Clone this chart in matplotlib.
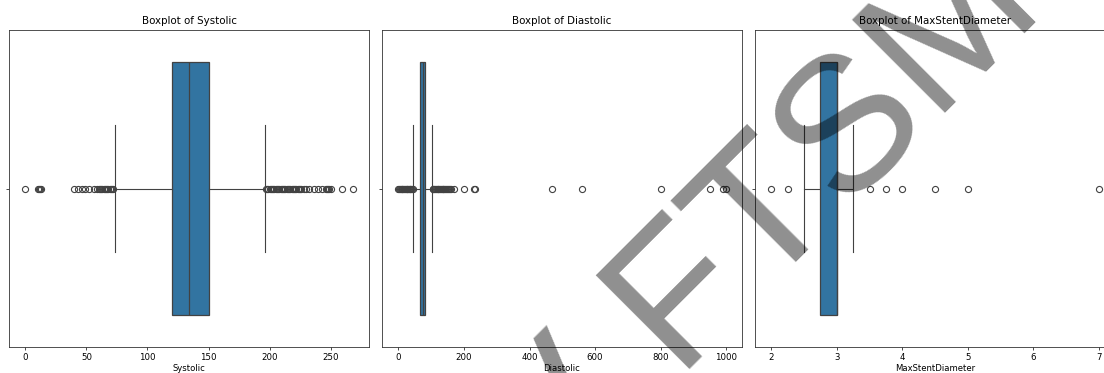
import matplotlib.pyplot as plt

# box statistics
columns = ['Systolic', 'Diastolic', 'MaxStentDiameter']
q1 = [120, 67, 2.75]
median = [134, 74, 3.0]
q3 = [150, 82, 3.0]
whisker_low = [73, 45, 2.5]
whisker_high = [196, 104, 3.25]

systolic_fliers = [0, 10, 11, 12, 13, 40, 43, 46, 49, 52, 56,
                   59, 60, 61, 62, 63, 64, 65, 66, 67, 68, 69, 70, 71, 72,
                   197, 198, 199, 200, 201, 202, 203, 204, 205, 206, 207, 208,
                   209, 210, 211, 212, 213, 214, 215, 216, 217, 218, 219, 220,
                   221, 222, 223, 224, 225, 226, 228, 230, 232, 236, 240, 243,
                   246, 247, 248, 249, 250, 259, 268]
diastolic_fliers = [0, 3, 5, 8, 10, 12, 15, 17, 20, 22, 25, 27, 30, 32, 35,
                    37, 40, 42, 44,
                    105, 107, 110, 112, 115, 117, 120, 122, 125, 127, 130,
                    132, 135, 137, 140, 142, 145, 148, 150, 153, 156, 160,
                    170, 200, 230, 233, 468, 560, 800, 950, 990, 998]
stent_fliers = [2.0, 2.25, 3.5, 3.75, 4.0, 4.5, 5.0, 7.0]
fliers = [systolic_fliers, diastolic_fliers, stent_fliers]

box_color = '#3274a1'
line_color = '#424242'

fig = plt.figure(figsize=(11.04, 3.73), dpi=100)
W, H = 1104.0, 373.0
lefts = [9, 382, 755]

for i, name in enumerate(columns):
    ax = fig.add_axes([lefts[i] / W, 26 / H, 360 / W, 317 / H])
    stats = [{'q1': q1[i], 'med': median[i], 'q3': q3[i],
              'whislo': whisker_low[i], 'whishi': whisker_high[i],
              'fliers': fliers[i]}]
    ax.bxp(stats, positions=[0], widths=0.8, capwidths=0.4,
           orientation='horizontal', patch_artist=True, manage_ticks=False,
           boxprops=dict(facecolor=box_color, edgecolor=line_color, linewidth=0.9),
           medianprops=dict(color=line_color, linewidth=0.9),
           whiskerprops=dict(color=line_color, linewidth=0.8),
           capprops=dict(color=line_color, linewidth=0.8),
           flierprops=dict(marker='o', markerfacecolor='none',
                           markeredgecolor=line_color, markersize=4.4,
                           markeredgewidth=0.8))
    values = fliers[i] + [whisker_low[i], whisker_high[i]]
    lo, hi = min(values), max(values)
    pad = 0.05 * (hi - lo)
    ax.set_xlim(lo - pad, hi + pad)
    ax.set_ylim(0.5, -0.5)
    ax.set_yticks([0])
    ax.set_yticklabels([''])
    ax.tick_params(labelsize=6.2, length=2.2, width=0.5, pad=2)
    for s in ax.spines.values():
        s.set_linewidth(0.6)
        s.set_color('#333333')
    ax.set_title('Boxplot of %s' % name, fontsize=7.4, pad=4)
    ax.set_xlabel(name, fontsize=6.1, labelpad=1.5)

# watermark across the figure
fig.text(551 / W, 1 - 508 / H, 'V FTSM', rotation=45, rotation_mode='anchor',
         ha='left', va='baseline', fontsize=138,
         family='Liberation Sans', color='black', alpha=0.44, zorder=10)

fig.savefig('out.png', dpi=100)
